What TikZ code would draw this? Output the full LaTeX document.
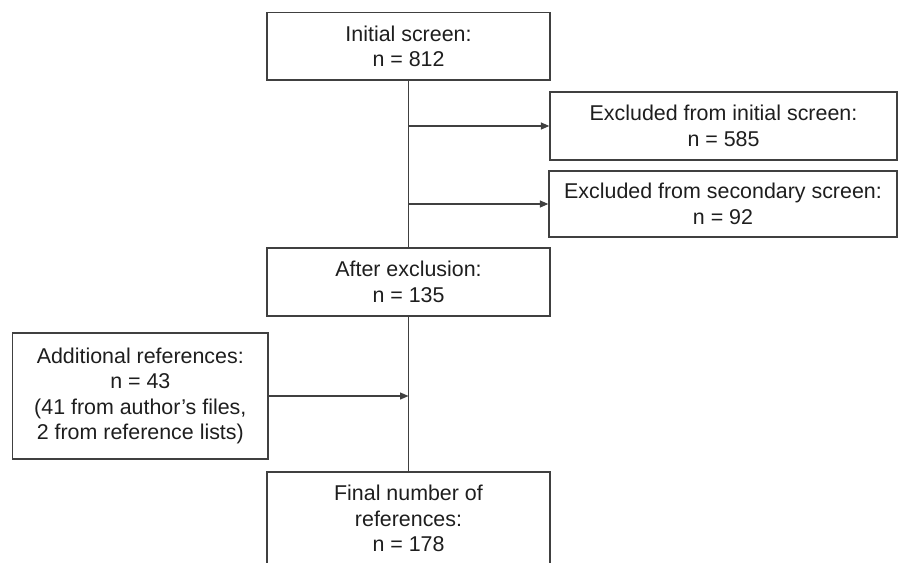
\documentclass[tikz,border=0pt]{standalone}
\usepackage{fontspec}
\setmainfont{Liberation Sans}
\usetikzlibrary{arrows.meta}
\definecolor{linegray}{HTML}{404040}
\definecolor{textgray}{HTML}{1E1E1E}
\begin{document}
\begin{tikzpicture}[x=1pt,y=-1pt,
  box/.style={draw=linegray, line width=1.3pt, fill=white, align=center, text=textgray,
    font=\fontsize{21.4}{25.5}\selectfont, inner sep=0pt},
  conn/.style={draw=linegray, line width=1.3pt},
  arr/.style={conn, -{Triangle[length=8.5pt,width=7pt]}}]
\useasboundingbox (0,0) rectangle (899,562);
\clip (0,0) rectangle (899,562);
\node[box, minimum width=283pt, minimum height=67.3pt] (init) at (408.5,46.4) {Initial screen:\\n = 812};
\node[box, minimum width=347pt, minimum height=68pt] (ex1) at (723.5,126) {Excluded from initial screen:\\n = 585};
\node[box, minimum width=348pt, minimum height=66pt] (ex2) at (723,204) {Excluded from secondary screen:\\n = 92};
\node[box, minimum width=283pt, minimum height=68pt] (after) at (408.5,282) {After exclusion:\\n = 135};
\node[box, minimum width=255.3pt, minimum height=126pt] (add) at (140.3,396) {Additional references:\\n = 43\\(41 from author’s files,\\2 from reference lists)};
\node[box, minimum width=283pt, minimum height=93pt] (final) at (408.5,518.5) {Final number of\\references:\\n = 178};
\draw[conn] (init.south) -- (after.north);
\draw[conn] (after.south) -- (final.north);
\draw[arr] (init.south |- ex1.west) -- (ex1.west);
\draw[arr] (init.south |- ex2.west) -- (ex2.west);
\draw[arr] (add.east) -- (add.east -| after.south);
\end{tikzpicture}
\end{document}
